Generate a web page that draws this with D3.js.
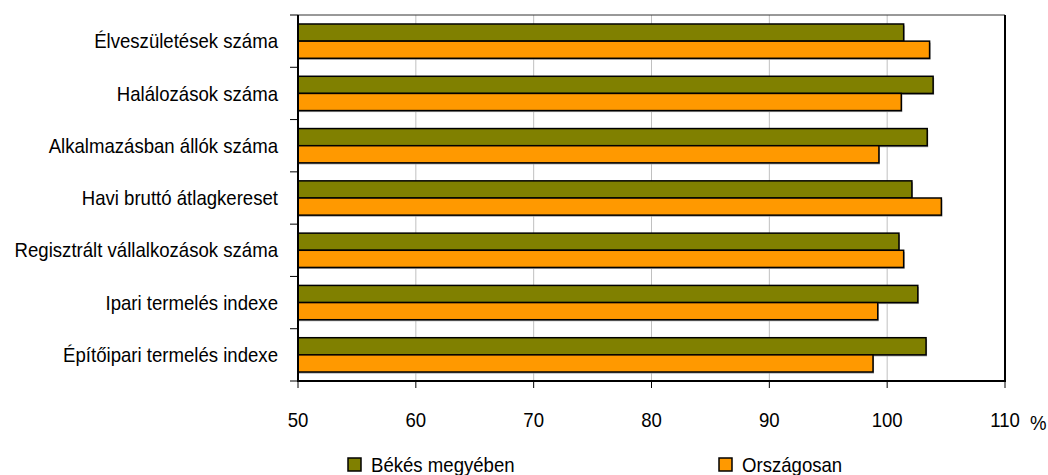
<!DOCTYPE html>
<html>
<head>
<meta charset="utf-8">
<script src="https://cdn.jsdelivr.net/npm/d3@7/dist/d3.min.js"></script>
<style>
  html, body { margin: 0; padding: 0; background: #fff; }
  svg { display: block; }
  text { font-family: "Liberation Sans", Arial, sans-serif; fill: #000; }
</style>
</head>
<body>
<svg id="chart" width="1048" height="475"></svg>
<script>
const categories = [
  "Élveszületések száma",
  "Halálozások száma",
  "Alkalmazásban állók száma",
  "Havi bruttó átlagkereset",
  "Regisztrált vállalkozások száma",
  "Ipari termelés indexe",
  "Építőipari termelés indexe"
];
const seriesNames = ["Békés megyében", "Országosan"];
const bekes = [101.4, 103.9, 103.4, 102.1, 101.0, 102.6, 103.3];
const orszagos = [103.6, 101.2, 99.3, 104.6, 101.4, 99.2, 98.8];
const xTicks = [50, 60, 70, 80, 90, 100, 110];
const xDomain = [50, 110];
const unitLabel = "%";
const colors = ["#808000", "#FF9900"];

const svg = d3.select("#chart");
const L = 298, R = 1005, T = 15, B = 381;
const FS = 20, SX = 0.93;

const x = d3.scaleLinear().domain(xDomain).range([L, R]);
const y = d3.scaleBand().domain(categories).range([T, B]).paddingInner(0.344).paddingOuter(0.172);
const ys = d3.scaleBand().domain(seriesNames).range([0, y.bandwidth()]);

const data = categories.map((c, i) => ({ cat: c, vals: [bekes[i], orszagos[i]] }));

// gridlines
svg.append("g").selectAll("line").data(xTicks.filter(t => t > xDomain[0] && t < xDomain[1]))
  .join("line")
  .attr("x1", d => x(d)).attr("x2", d => x(d))
  .attr("y1", T).attr("y2", B)
  .attr("stroke", "#c0c0c0").attr("stroke-width", 1);

// top border
svg.append("line").attr("x1", L).attr("x2", R).attr("y1", T).attr("y2", T)
  .attr("stroke", "#333").attr("stroke-width", 1);
// right border
svg.append("line").attr("x1", R).attr("x2", R).attr("y1", T).attr("y2", B)
  .attr("stroke", "#000").attr("stroke-width", 2);

// bars
const groups = svg.append("g").selectAll("g").data(data).join("g")
  .attr("transform", d => `translate(0,${y(d.cat)})`);

groups.selectAll("rect.shadow").data(d => d.vals.map((v, j) => ({ v, s: seriesNames[j], j })))
  .join("rect").attr("class", "shadow")
  .attr("x", x(xDomain[0]) + 1)
  .attr("y", d => ys(d.s) + 1.5)
  .attr("width", d => x(d.v) - x(xDomain[0]))
  .attr("height", ys.bandwidth())
  .attr("fill", "#9a9a9a");

groups.selectAll("rect.bar").data(d => d.vals.map((v, j) => ({ v, s: seriesNames[j], j })))
  .join("rect").attr("class", "bar")
  .attr("x", x(xDomain[0]))
  .attr("y", d => ys(d.s))
  .attr("width", d => x(d.v) - x(xDomain[0]))
  .attr("height", ys.bandwidth())
  .attr("fill", d => colors[d.j])
  .attr("stroke", "#000").attr("stroke-width", 1.5);

// left axis line & ticks at band boundaries
svg.append("line").attr("x1", L).attr("x2", L).attr("y1", T).attr("y2", B + 1)
  .attr("stroke", "#000").attr("stroke-width", 2);
const bounds = d3.range(categories.length + 1).map(i => T + i * y.step());
svg.append("g").selectAll("line").data(bounds).join("line")
  .attr("x1", L - 8).attr("x2", L).attr("y1", d => d).attr("y2", d => d)
  .attr("stroke", "#000").attr("stroke-width", 1);

// category labels
svg.append("g").selectAll("text").data(categories).join("text")
  .attr("transform", d => `translate(278,${y(d) + y.bandwidth() / 2}) scale(${SX},1)`)
  .attr("text-anchor", "end")
  .attr("dy", "0.36em")
  .style("font-size", FS + "px")
  .text(d => d);

// bottom axis
svg.append("line").attr("x1", L - 1).attr("x2", R + 1).attr("y1", B).attr("y2", B)
  .attr("stroke", "#000").attr("stroke-width", 2);
svg.append("g").selectAll("line").data(xTicks).join("line")
  .attr("x1", d => x(d)).attr("x2", d => x(d)).attr("y1", B).attr("y2", B + 7)
  .attr("stroke", "#000").attr("stroke-width", 1);
svg.append("g").selectAll("text").data(xTicks).join("text")
  .attr("transform", d => `translate(${x(d)},427) scale(${SX},1)`)
  .attr("text-anchor", "middle")
  .style("font-size", FS + "px")
  .text(d => d);
svg.append("text")
  .attr("transform", `translate(1030,430) scale(${SX},1)`)
  .style("font-size", FS + "px")
  .text(unitLabel);

// legend
const legX = [348, 719];
const leg = svg.append("g").selectAll("g").data(seriesNames).join("g")
  .attr("transform", (d, i) => `translate(${legX[i]},458)`);
leg.append("rect").attr("width", 13).attr("height", 13)
  .attr("fill", (d, i) => colors[i]).attr("stroke", "#000").attr("stroke-width", 1.5);
leg.append("text")
  .attr("transform", `translate(23,13.5) scale(${SX},1)`)
  .style("font-size", FS + "px")
  .text(d => d);
</script>
</body>
</html>
